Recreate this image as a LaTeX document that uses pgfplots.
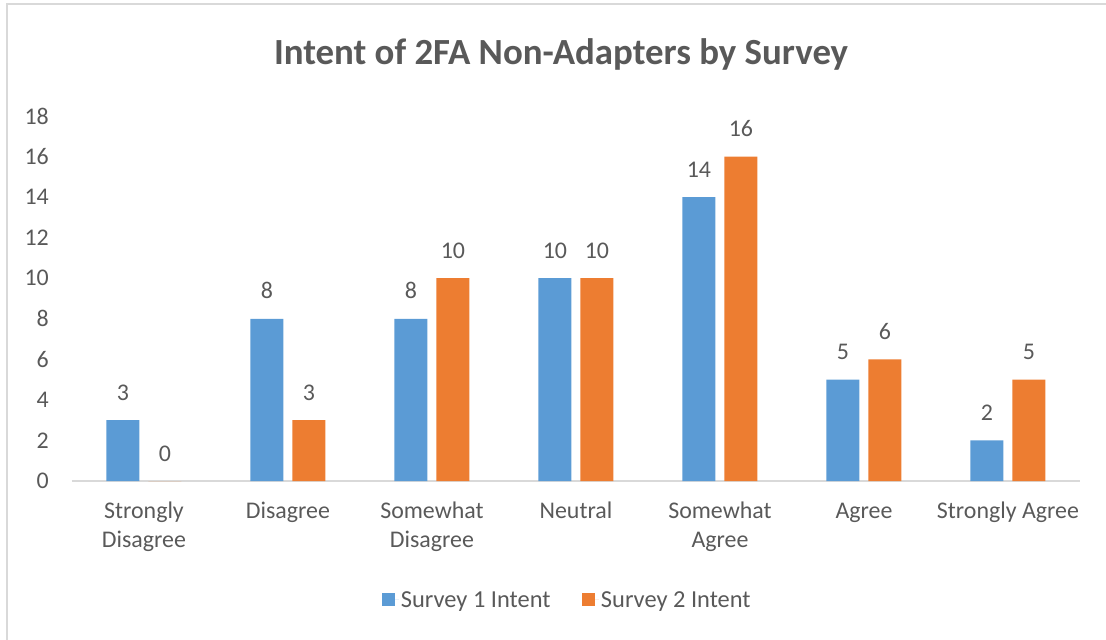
\documentclass[border=0pt]{standalone}
\usepackage{pgfplots}
\pgfplotsset{compat=1.18}
\usepackage{fontspec}
\setmainfont{Carlito}
\definecolor{txt}{HTML}{595959}
\definecolor{bl}{HTML}{5B9BD5}
\definecolor{or}{HTML}{ED7D31}
\definecolor{brd}{HTML}{D9D9D9}
\begin{document}
\begin{tikzpicture}
\begin{axis}[
  name=ax,
  scale only axis,
  width=1008bp, height=365bp,
  xmin=-0.5, xmax=6.5,
  ymin=0, ymax=18,
  ybar=9bp, bar width=33bp,
  axis y line*=left,
  axis x line*=bottom,
  y axis line style={draw=none},
  x axis line style={brd, line width=1.2bp, -},
  xtick=data,
  xticklabels={{\strut Strongly\\Disagree},\strut Disagree,{\strut Somewhat\\Disagree},\strut Neutral,{\strut Somewhat\\Agree},\strut Agree,\strut Strongly Agree},
  ytick={0,2,...,18},
  major tick length=0pt,
  tick style={draw=none},
  /pgf/number format/assume math mode=true,
  xticklabel style={font=\fontsize{24}{29}\selectfont, text=txt, align=center, anchor=north, inner sep=0pt, yshift=-17bp},
  yticklabel style={font=\fontsize{24}{29}\selectfont, text=txt, anchor=east, inner sep=0pt, xshift=-23bp},
  nodes near coords,
  every node near coord/.append style={font=\fontsize{24}{29}\selectfont, text=txt, anchor=base, inner sep=0pt, yshift=20bp},
  legend columns=2,
  legend style={at={(0.4916,-0.326)}, anchor=center, draw=none, fill=none,
    font=\fontsize{24.5}{29}\selectfont, text=txt,
    /tikz/every even column/.append style={column sep=30bp}},
  legend image code/.code={\path (0bp,0bp) -- (16.5bp,0bp); \fill[#1] (0bp,-6bp) rectangle (12.5bp,6.5bp);},
]
\addplot[fill=bl, draw=none] coordinates {(0,3) (1,8) (2,8) (3,10) (4,14) (5,5) (6,2)};
\addplot[fill=or, draw=none] coordinates {(0,0) (1,3) (2,10) (3,10) (4,16) (5,6) (6,5)};
\legend{Survey 1 Intent, Survey 2 Intent}
\end{axis}
\draw[brd, line width=2bp] ([xshift=-65bp,yshift=-170bp]ax.south west) -- ([xshift=-65bp,yshift=477bp]ax.south west) -- ([xshift=1045bp,yshift=477bp]ax.south west);
\node[anchor=base, font=\fontsize{37}{44}\selectfont\bfseries, text=txt] at ([xshift=489bp,yshift=416bp]ax.south west) {Intent of 2FA Non-Adapters by Survey};
\pgfresetboundingbox
\path[use as bounding box] ([xshift=-72bp,yshift=-159bp]ax.south west) rectangle ([xshift=1034bp,yshift=481bp]ax.south west);
\end{tikzpicture}
\end{document}
